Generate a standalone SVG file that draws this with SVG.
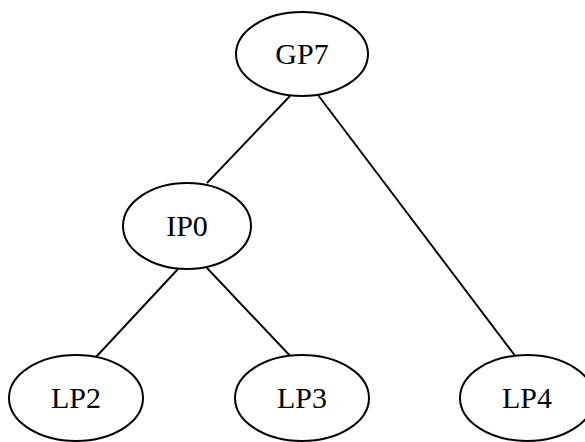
<svg xmlns="http://www.w3.org/2000/svg" width="585" height="442" viewBox="0 0 585 442">
<style>
.node ellipse{fill:#fff;stroke:#000;stroke-width:2}
.node text{font-family:"Liberation Serif","Times New Roman",serif;font-size:30px;text-anchor:middle;fill:#000}
.edges line{stroke:#000;stroke-width:1.9}
</style>
<rect width="585" height="442" fill="#fff"/>
<g id="edges" class="edges">
<line x1="290" y1="96" x2="207" y2="183"/>
<line x1="318" y1="95" x2="516" y2="357"/>
<line x1="178" y1="269" x2="96" y2="357"/>
<line x1="207" y1="268" x2="294" y2="360"/>
</g>
<g id="GP7" class="node"><ellipse cx="302" cy="54" rx="66" ry="42"/><text x="302" y="64">GP7</text></g>
<g id="IP0" class="node"><ellipse cx="187" cy="226" rx="64" ry="43"/><text x="187" y="236">IP0</text></g>
<g id="LP2" class="node"><ellipse cx="76" cy="398" rx="67" ry="43"/><text x="76" y="408">LP2</text></g>
<g id="LP3" class="node"><ellipse cx="302" cy="398" rx="67" ry="43"/><text x="302" y="408">LP3</text></g>
<g id="LP4" class="node"><ellipse cx="527" cy="398" rx="67" ry="43"/><text x="527" y="408">LP4</text></g>
</svg>
